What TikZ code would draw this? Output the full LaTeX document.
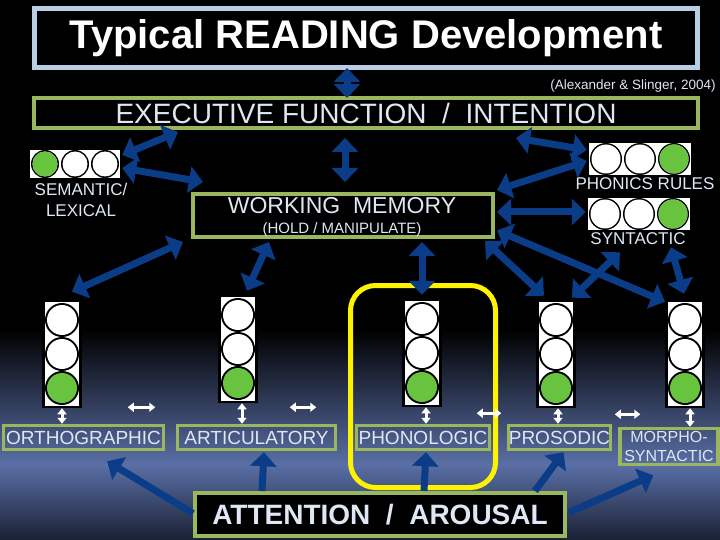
\documentclass[tikz,border=0pt]{standalone}
\usepackage{fontspec}
\setmainfont{Liberation Sans}
\usetikzlibrary{arrows.meta, calc, positioning}
\definecolor{titleblue}{RGB}{185,205,229}
\definecolor{boxgreen}{RGB}{155,183,94}
\definecolor{arrowblue}{RGB}{10,60,135}
\definecolor{lampgreen}{RGB}{104,196,62}
\definecolor{labeltext}{RGB}{222,231,243}
\definecolor{bgblue}{RGB}{90,111,166}
\definecolor{bgdark}{RGB}{26,33,52}

\begin{document}
\begin{tikzpicture}[x=1pt, y=-1pt,
  banner/.style={draw=boxgreen, line width=4pt, fill=black, inner sep=0pt, text=labeltext},
  skill/.style={draw=boxgreen, line width=3.5pt, inner sep=0pt, text=labeltext, minimum height=24pt, font=\fontsize{19}{22}\selectfont},
  vlight/.style={draw=black, fill=white, line width=2.5pt, minimum width=37pt, minimum height=106pt, inner sep=0pt},
  hlight/.style={draw=black, fill=white, line width=2.5pt, inner sep=0pt},
  lighttext/.style={text=labeltext, inner sep=0pt, align=center},
  link/.style={>={Triangle[width=26pt,length=14pt]}, <->, draw=arrowblue, line width=7pt},
  feed/.style={>={Triangle[width=26pt,length=14pt]}, ->, draw=arrowblue, line width=7pt},
  tick/.style={>={Triangle[width=9pt,length=6pt]}, <->, draw=white, line width=3pt}]
\fill[black] (0,0) rectangle (720,330);
\shade[top color=black, bottom color=bgblue] (0,329.5) rectangle (720,465);
\shade[top color=bgblue, bottom color=bgdark] (0,464.5) rectangle (720,540);
\useasboundingbox (0,0) rectangle (720,540);

\node[draw=titleblue, line width=5pt, fill=black, minimum width=663pt, minimum height=59pt, inner sep=0pt, text=white, font=\fontsize{40}{44}\selectfont\bfseries] (title) at (366,38) {Typical READING Development};
\node[lighttext, font=\fontsize{13.5}{15}\selectfont] (cite) at (633,86) {(Alexander \& Slinger, 2004)};
\node[banner, minimum width=664pt, minimum height=30pt, font=\fontsize{28}{30}\selectfont] (ef) at (366,113) {EXECUTIVE FUNCTION\ \ /\ \ INTENTION};
\node[banner, minimum width=300pt, minimum height=43pt] (wm) at (343,215.5) {};
\node[lighttext, font=\fontsize{23}{26}\selectfont] (wmname) at (342,206) {WORKING\ \ MEMORY};
\node[lighttext, font=\fontsize{15}{17}\selectfont] (wmnote) at (342,230) {(HOLD / MANIPULATE)};

\node[lighttext, font=\fontsize{17}{21}\selectfont] (semname) at (81,199.5) {SEMANTIC/\\LEXICAL};
\node[lighttext, font=\fontsize{17}{20}\selectfont] (phonname) at (645,184) {PHONICS RULES};
\node[lighttext, font=\fontsize{17}{20}\selectfont] (synname) at (638,239) {SYNTACTIC};

\node[draw=yellow, line width=5pt, rounded corners=25pt, minimum width=145pt, minimum height=202pt] (focus) at (423,386.5) {};

\node[skill, minimum width=160pt] (ortho) at (83.5,437.5) {ORTHOGRAPHIC};
\node[skill, minimum width=158pt] (artic) at (256.5,437.5) {ARTICULATORY};
\node[skill, minimum width=133pt] (phono) at (423,437.5) {PHONOLOGIC};
\node[skill, minimum width=102pt] (pros) at (559.5,437.5) {PROSODIC};
\node[skill, minimum width=98pt, minimum height=36pt, align=center, font=\fontsize{16}{19}\selectfont] (morph) at (669,446.5) {MORPHO-\\SYNTACTIC};
\node[banner, minimum width=370pt, minimum height=43pt, font=\fontsize{28}{30}\selectfont\bfseries] (att) at (380,514.5) {ATTENTION\ \ /\ \ AROUSAL};

\foreach \nm/\px/\py in {lortho/62/354, lartic/238/349, lphono/422/353, lpros/556/354, lmorph/685/354} {
  \node[vlight] (\nm) at (\px,\py) {};
  \foreach \k/\col in {-34/white, 0/white, 34/lampgreen} {
    \fill[black] ($(\nm.center)+(0,\k)$) circle (17);
    \fill[\col] ($(\nm.center)+(0,\k)$) circle (15);
  }
}
\foreach \nm/\px/\py/\pp/\gp in {lsem/75/164/30/-1, lphon/640/159/34/1, lsyn/639/214/34/1} {
  \node[hlight, minimum width=3*\pp+2, minimum height=\pp] (\nm) at (\px,\py) {};
  \foreach \k in {-1,0,1} {
    \fill[black] ($(\nm.center)+(\k*\pp,0)$) circle ({\pp/2-1});
    \fill[white] ($(\nm.center)+(\k*\pp,0)$) circle ({\pp/2-2.5});
  }
  \fill[lampgreen] ($(\nm.center)+(\gp*\pp,0)$) circle ({\pp/2-2.5});
}

\draw[link] ($(title.south)+(-19,-2)$) -- ($(ef.north)+(-19,2)$);
\draw[link] ($(lsem.east)+(0,-9)$) -- ($(ef.south west)+(146,2)$);
\draw[link] ($(lsem.east)+(0,4)$) -- ($(wm.north west)+(12,-10)$);
\draw[link] ($(ef.south)+(-21,8)$) -- ($(wm.north)+(2,-10)$);
\draw[link] ($(ef.south)+(150,8)$) -- ($(lphon.west)+(0,-9)$);
\draw[link] ($(wm.north east)+(2,-2)$) -- ($(lphon.west)+(0,2)$);
\draw[link] ($(wm.east)+(2,-3.5)$) -- ($(lsyn.west)+(0,-2)$);
\draw[link] ($(wm.east)+(2,15)$) -- ($(lmorph.north)+(-20,2)$);
\draw[link] ($(wm.south east)+(-10,2)$) -- ($(lpros.north)+(-12,-4)$);
\draw[link] ($(lsyn.south)+(-19,20)$) -- ($(lpros.north)+(16,-2)$);
\draw[link] ($(lsyn.south)+(32,15)$) -- ($(lmorph.north)+(-1,-6)$);
\draw[link] ($(wm.south west)+(-8,3)$) -- ($(lortho.north)+(10,-8)$);
\draw[link] ($(wm.south west)+(78,3)$) -- ($(lartic.north)+(9,-4)$);
\draw[link] ($(wm.south)+(79,3)$) -- ($(lphono.north)+(0,-4)$);

\draw[feed] ($(att.west)+(0,-1)$) -- ($(ortho.south east)+(-58,10)$);
\draw[feed] ($(att.north west)+(69,0)$) -- ($(artic.south)+(7.5,1)$);
\draw[feed] ($(att.north west)+(231,0)$) -- ($(phono.south)+(3,1)$);
\draw[feed] ($(att.north east)+(-32,0)$) -- ($(pros.south)+(4,1)$);
\draw[feed] ($(att.east)+(2,-2)$) -- ($(morph.south west)+(35,9)$);

\draw[tick] (lortho.south) -- ($(ortho.north)+(-21.5,0)$);
\draw[tick] ($(lartic.south)+(4,0)$) -- ($(artic.north)+(-14.5,0)$);
\draw[tick] ($(lphono.south)+(4,0)$) -- ($(phono.north)+(3,0)$);
\draw[tick] ($(lpros.south)+(2,0)$) -- ($(pros.north)+(-1.5,0)$);
\draw[tick] ($(lmorph.south)+(5,0)$) -- ($(morph.north)+(21,0)$);
\draw[tick] ($(ortho.north east)+(-37.5,-16.5)$) -- ($(artic.north west)+(-20.5,-16.5)$);
\draw[tick] ($(artic.north east)+(-47.5,-16.5)$) -- ($(phono.north west)+(-38.5,-16.5)$);
\draw[tick] ($(phono.north east)+(-14.5,-10.5)$) -- ($(pros.north west)+(-5.5,-10.5)$);
\draw[tick] ($(pros.north east)+(2.5,-9.5)$) -- ($(morph.north west)+(22,-12.5)$);
\end{tikzpicture}
\end{document}
